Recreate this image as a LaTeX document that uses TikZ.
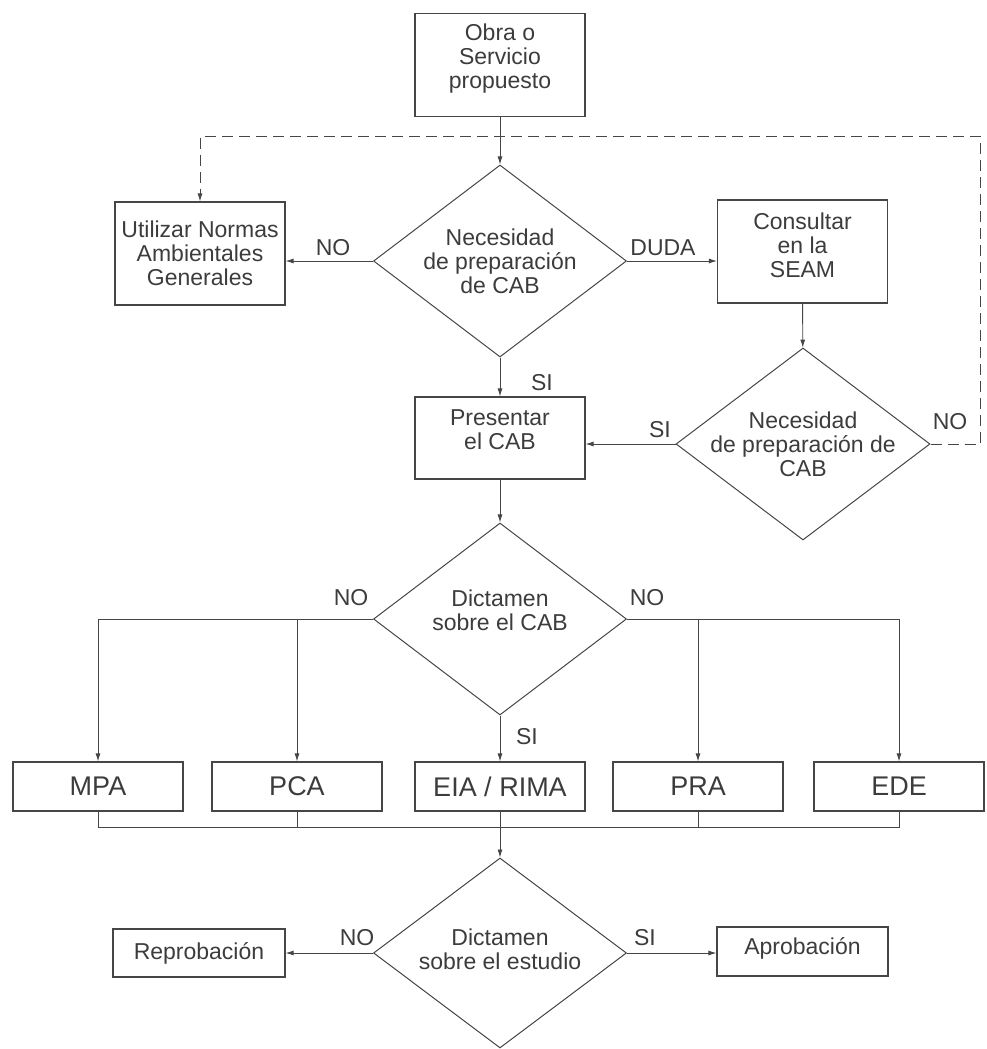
\documentclass[tikz,border=0pt]{standalone}
\usepackage{fontspec}
\setmainfont{Liberation Sans}
\usepackage{tikz}
\usetikzlibrary{shapes.geometric}
\usetikzlibrary{arrows.meta}
\definecolor{linea}{RGB}{70,70,70}
\definecolor{texto}{RGB}{60,60,60}

\begin{document}
\begin{tikzpicture}[x=1pt,y=1pt,yscale=-1,xscale=1,
  caja/.style={draw=linea, line width=1.1pt, align=center, minimum width=170pt, inner sep=2pt, text=texto, font=\fontsize{23}{24}\selectfont},
  sigla/.style={caja, minimum height=49pt, font=\fontsize{27}{28}\selectfont},
  rombo/.style={draw=linea, line width=1pt, diamond, minimum width=253pt, minimum height=192pt, inner sep=0pt},
  rotulo/.style={inner sep=0pt, align=center, text=texto, font=\fontsize{23}{24}\selectfont},
  trazo/.style={draw=linea, line width=0.9pt},
  flecha/.style={trazo, -{Latex[length=8pt,width=5pt]}},
  guion/.style={flecha, dash pattern=on 11pt off 6pt}]
\useasboundingbox (0,0) rectangle (986,1049);

%Boxes
\node[caja, minimum height=103pt, label={[rotulo,yshift=6pt]center:{Obra o\\Servicio\\propuesto}}] (obra) at (500,65) {};
\node[caja, minimum height=103pt] (normas) at (200,253.5) {Utilizar Normas\\Ambientales\\Generales};
\node[caja, minimum height=103pt, label={[rotulo,yshift=6pt]center:{Consultar\\en la\\SEAM}}] (seam) at (802.5,251.5) {};
\node[caja, minimum height=82pt, label={[rotulo,yshift=8pt]center:{Presentar\\el CAB}}] (cab) at (500,438) {};

%Decisions
\node[rombo, label={[rotulo]center:{Necesidad\\de preparación\\de CAB}}] (nec1) at (500,261) {};
\node[rombo, minimum width=254pt, label={[rotulo]center:{Necesidad\\de preparación de\\CAB}}] (nec2) at (803,444) {};
\node[rombo, label={[rotulo,yshift=9pt]center:{Dictamen\\sobre el CAB}}] (nec3) at (500,619) {};
\node[rombo, minimum height=190pt, label={[rotulo,yshift=4pt]center:{Dictamen\\sobre el estudio}}] (nec4) at (500,953) {};

%Studies
\node[sigla] (mpa) at (98,786.5) {MPA};
\node[sigla] (pca) at (297,786.5) {PCA};
\node[sigla] (eia) at (500,786.5) {EIA / RIMA};
\node[sigla] (pra) at (698,786.5) {PRA};
\node[sigla] (ede) at (899,786.5) {EDE};
\coordinate (bus) at (500,827);

%Results
\node[caja, minimum width=172pt, minimum height=48pt] (reprob) at (199,953) {Reprobación};
\node[caja, minimum width=171pt, minimum height=49pt, label={[rotulo,yshift=3pt]center:Aprobación}] (aprob) at (802.5,951.5) {};

%Connectors
\draw[flecha] (obra) -- (nec1);
\draw[flecha] (nec1.west) -- (nec1.west -| normas.east);
\draw[flecha] (nec1.east) -- (nec1.east -| seam.west);
\draw[flecha] (seam) -- (nec2);
\draw[flecha] (nec1.south) -- (cab.north);
\draw[flecha] (nec2.west) -- (nec2.west -| cab.east);
\draw[guion] (nec2.east) -| (980,136) -| (normas.north);
\draw[flecha] (cab) -- (nec3);
\draw[flecha] (nec3.west) -| (mpa.north);
\draw[flecha] (nec3.west -| pca.north) -- (pca.north);
\draw[flecha] (nec3.east) -| (ede.north);
\draw[flecha] (nec3.east -| pra.north) -- (pra.north);
\draw[flecha] (nec3.south) -- (eia.north);
\draw[trazo] (mpa.south) |- (bus) -| (ede.south);
\draw[trazo] (pca.south) -- (pca.south |- bus);
\draw[trazo] (pra.south) -- (pra.south |- bus);
\draw[flecha] (eia.south) -- (nec4.north);
\draw[flecha] (nec4.west) -- (nec4.west -| reprob.east);
\draw[flecha] (nec4.east) -- (nec4.east -| aprob.west);

% Text Node
\node[rotulo] (no1) at (333,248) {NO};
\node[rotulo] (duda) at (663,248) {DUDA};
\node[rotulo] (si1) at (542,383) {SI};
\node[rotulo] (si2) at (660,430) {SI};
\node[rotulo] (no2) at (950,422) {NO};
\node[rotulo] (no3) at (351,598) {NO};
\node[rotulo] (no4) at (647,598) {NO};
\node[rotulo] (si3) at (527,737) {SI};
\node[rotulo] (no5) at (357,938) {NO};
\node[rotulo] (si4) at (645,938) {SI};

\end{tikzpicture}
\end{document}
